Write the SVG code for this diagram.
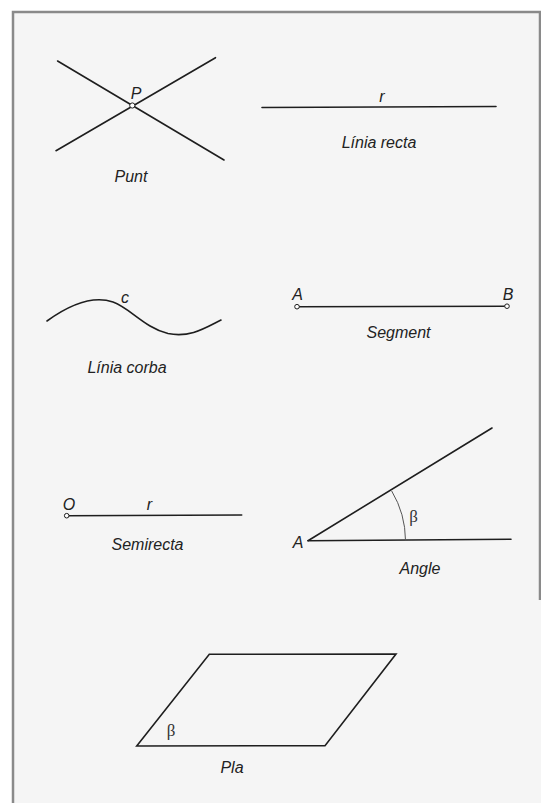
<svg xmlns="http://www.w3.org/2000/svg" width="541" height="803" viewBox="0 0 541 803">
<style>
.ln{stroke:#1e1e1e;stroke-width:1.6;fill:none;stroke-linecap:round}
.arc{stroke:#555;stroke-width:1;fill:none}
.pt{fill:#fff;stroke:#1e1e1e;stroke-width:1}
.t{font-family:"Liberation Sans",Arial,sans-serif;font-style:italic;font-size:16px;fill:#222}
.g{font-family:"Liberation Serif","DejaVu Serif",serif;font-size:17px;fill:#333}
.frame{stroke:#8a8a8a;stroke-width:2.5;fill:none}
</style>
<rect x="0" y="0" width="541" height="803" fill="#ffffff"/>
<rect x="13" y="12" width="528" height="791" fill="#f5f5f5"/>
<path class="frame" d="M13,803 V12 H540 V600"/>
<g id="punt">
<line class="ln" x1="57.6" y1="61" x2="224" y2="160"/>
<line class="ln" x1="56" y1="150.7" x2="215.5" y2="57.7"/>
<circle class="pt" cx="132.3" cy="105.5" r="2.6"/>
<text class="t" x="136" y="98.5" text-anchor="middle">P</text>
<text class="t" x="131" y="182" text-anchor="middle">Punt</text>
</g>
<g id="linia-recta">
<line class="ln" x1="262" y1="107.5" x2="496" y2="106.5"/>
<text class="t" x="382" y="101.5" text-anchor="middle">r</text>
<text class="t" x="379" y="148" text-anchor="middle">Línia recta</text>
</g>
<g id="linia-corba">
<path class="ln" d="M47,321 C72,303 95,296 113,302 C130,308 145,328 168,333.5 C190,338 205,328 221,320"/>
<text class="t" x="125" y="303" text-anchor="middle">c</text>
<text class="t" x="127" y="373" text-anchor="middle">Línia corba</text>
</g>
<g id="segment">
<line class="ln" x1="297" y1="306.7" x2="507" y2="306.2"/>
<circle class="pt" cx="297" cy="306.7" r="2.3"/>
<circle class="pt" cx="507" cy="306.2" r="2.3"/>
<text class="t" x="297.5" y="300" text-anchor="middle">A</text>
<text class="t" x="508" y="300" text-anchor="middle">B</text>
<text class="t" x="398.5" y="337.5" text-anchor="middle">Segment</text>
</g>
<g id="semirecta">
<line class="ln" x1="66.7" y1="515.7" x2="241.7" y2="515"/>
<circle class="pt" cx="66.7" cy="515.7" r="2.3"/>
<text class="t" x="69" y="510" text-anchor="middle">O</text>
<text class="t" x="149.5" y="510" text-anchor="middle">r</text>
<text class="t" x="147.5" y="550" text-anchor="middle">Semirecta</text>
</g>
<g id="angle">
<line class="ln" x1="308" y1="540.7" x2="492" y2="428"/>
<line class="ln" x1="308" y1="540.7" x2="511" y2="539.3"/>
<path class="arc" d="M391.7,491 A97.5,97.5 0 0 1 405.5,540.4"/>
<text class="g" x="413.5" y="522" text-anchor="middle">β</text>
<text class="t" x="298" y="548" text-anchor="middle">A</text>
<text class="t" x="420" y="574" text-anchor="middle">Angle</text>
</g>
<g id="pla">
<path class="ln" d="M136.7,746 L209.3,654.3 L396,654 L325,745.7 Z" stroke-linejoin="miter"/>
<text class="g" x="171" y="736" text-anchor="middle">β</text>
<text class="t" x="232" y="773" text-anchor="middle">Pla</text>
</g>
</svg>
